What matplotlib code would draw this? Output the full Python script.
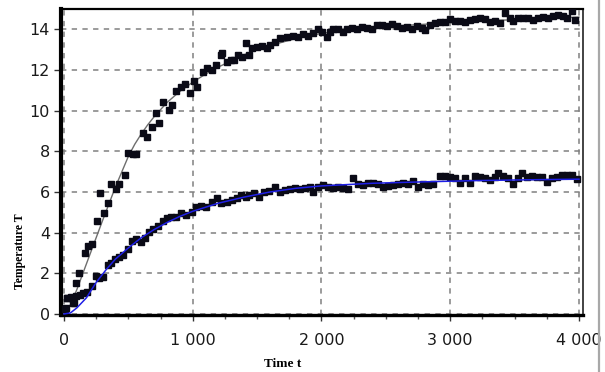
import matplotlib
matplotlib.use("Agg")
import matplotlib.pyplot as plt
from matplotlib.lines import Line2D

# ---------------- data ----------------
upper_t = [15, 21, 59, 77, 93, 118, 162, 188, 214, 257, 283, 311, 342, 368, 402, 427,
           471, 497, 535, 561, 612, 643, 682, 716, 741, 767, 813, 836, 870, 909, 942,
           981, 1012, 1037, 1076, 1114, 1153, 1179, 1218, 1230, 1269, 1295, 1320, 1354,
           1385, 1411, 1436, 1462, 1500, 1539, 1578, 1604, 1642,
           1678, 1729, 1781, 1820, 1859, 1898, 1937, 1975, 2001, 2040, 2066, 2092, 2131,
           2170, 2195, 2234, 2273, 2312, 2351, 2390, 2428, 2467, 2506, 2545, 2584, 2623,
           2662, 2700, 2739, 2778, 2804, 2843, 2882, 2920, 2959, 2998, 3037, 3076, 3115,
           3154, 3192, 3231, 3270, 3309, 3348, 3387, 3425, 3464, 3490, 3529, 3568, 3607,
           3646, 3684, 3723, 3762, 3801, 3840, 3879, 3910, 3943, 3969]
upper_T = [0.28, 0.77, 0.80, 0.52, 1.54, 2.00, 2.98, 3.34, 3.42, 4.59, 5.93, 4.95, 5.47,
           6.39, 6.15, 6.37, 6.83, 7.93, 7.85, 7.87, 8.91, 8.72, 9.21, 9.87, 9.41, 10.41,
           10.03, 10.28, 10.98, 11.18, 11.29, 10.85, 11.46, 11.14, 11.91, 12.08, 12.00,
           12.24, 12.73, 12.82, 12.40, 12.50, 12.49, 12.73, 12.65, 13.31, 12.73, 13.06,
           13.14, 13.18, 13.09, 13.22, 13.39,
           13.55, 13.63, 13.68, 13.63, 13.75, 13.68, 13.80, 14.01, 13.88, 13.63, 13.88,
           14.04, 14.01, 13.88, 14.01, 14.08, 14.01, 14.13, 14.08, 14.01, 14.21, 14.21,
           14.17, 14.24, 14.17, 14.08, 14.13, 14.04, 14.17, 14.08, 13.96, 14.21, 14.29,
           14.34, 14.37, 14.50, 14.40, 14.40, 14.34, 14.45, 14.50, 14.57, 14.50, 14.34,
           14.40, 14.29, 14.78, 14.54, 14.40, 14.57, 14.54, 14.54, 14.45, 14.54, 14.62,
           14.57, 14.67, 14.70, 14.67, 14.54, 14.90, 14.45]

lower_t = [8, 21, 52, 67, 93, 124, 149, 180, 214, 247, 273, 304, 342, 368, 394, 427, 458,
           497, 530, 561, 600, 630, 664, 695, 730, 767, 798, 831, 870, 909, 947, 993, 1024,
           1063, 1102, 1153, 1192, 1218, 1263, 1302, 1341, 1372, 1411, 1437, 1475, 1514,
           1553, 1591, 1642,
           1678, 1716, 1755, 1794, 1833, 1872, 1911, 1937, 1975, 2014, 2053, 2092, 2131,
           2170, 2209, 2247, 2286, 2325, 2364, 2403, 2441, 2480, 2519, 2558, 2597, 2636,
           2675, 2713, 2752, 2791, 2830, 2869, 2921, 2959, 2998, 3037, 3076, 3115, 3154,
           3192, 3231, 3270, 3309, 3348, 3374, 3412, 3451, 3490, 3529, 3555, 3594, 3633,
           3672, 3710, 3749, 3788, 3827, 3866, 3905, 3943, 3982]
lower_T = [0.23, 0.77, 0.85, 0.52, 0.88, 0.93, 1.05, 1.10, 1.38, 1.87, 1.75, 1.84, 2.41,
           2.49, 2.69, 2.79, 2.90, 3.18, 3.60, 3.67, 3.55, 3.75, 4.05, 4.16, 4.35, 4.59,
           4.70, 4.79, 4.79, 4.95, 4.87, 5.03, 5.28, 5.31, 5.24, 5.52, 5.69, 5.47, 5.52,
           5.60, 5.69, 5.85, 5.77, 5.85, 5.93, 5.77, 6.01, 6.06, 6.23,
           6.01, 6.10, 6.13, 6.18, 6.13, 6.18, 6.23, 6.01, 6.26, 6.34, 6.23, 6.18, 6.23,
           6.18, 6.13, 6.67, 6.39, 6.34, 6.46, 6.42, 6.39, 6.23, 6.30, 6.34, 6.39, 6.42,
           6.39, 6.56, 6.26, 6.39, 6.34, 6.39, 6.78, 6.78, 6.75, 6.67, 6.46, 6.67, 6.46,
           6.78, 6.75, 6.67, 6.59, 6.72, 6.95, 6.78, 6.67, 6.39, 6.67, 6.95, 6.75, 6.78,
           6.75, 6.72, 6.51, 6.67, 6.75, 6.83, 6.83, 6.83, 6.62]

gray_fit_t = [0, 50, 100, 200, 300, 400, 500, 550, 600, 650, 700, 750, 800, 900, 1000,
              1100, 1200, 1300, 1400, 1500, 1600, 1800, 2000, 2200, 2400, 2800, 3200,
              3600, 4000]
gray_fit_T = [0.0, 0.45, 1.2, 2.9, 4.6, 6.25, 7.75, 8.35, 8.85, 9.3, 9.7, 10.05, 10.4,
              10.95, 11.4, 11.8, 12.15, 12.45, 12.75, 13.0, 13.2, 13.55, 13.8, 13.97,
              14.1, 14.25, 14.4, 14.5, 14.6]

blue_fit_t = [0, 50, 100, 175, 250, 330, 400, 500, 600, 700, 800, 900, 1000, 1200, 1400,
              1600, 1800, 2000, 2400, 2800, 3200, 3600, 4000]
blue_fit_T = [0.0, 0.05, 0.3, 0.8, 1.55, 2.2, 2.7, 3.25, 3.75, 4.15, 4.5, 4.8, 5.05, 5.45,
              5.75, 6.0, 6.18, 6.3, 6.43, 6.5, 6.56, 6.6, 6.63]

x_ticks = [0, 1000, 2000, 3000, 4000]
x_tick_labels = ["0", "1 000", "2 000", "3 000", "4 000"]
y_ticks = [0, 2, 4, 6, 8, 10, 12, 14]
x_label = "Time t"
y_label = "Temperature T"

# ---------------- figure ----------------
W, H = 605, 372
fig = plt.figure(figsize=(W / 100, H / 100), dpi=100)
ax = fig.add_axes([61 / W, 1 - 315 / H, (583 - 61) / W, (315 - 9) / H])

ax.set_xlim(-23, 4031)
ax.set_ylim(-0.05, 15.0)

ax.grid(True, color="#808080", linestyle=(0, (3.5, 3.5)), linewidth=1.1, zorder=0)
ax.set_axisbelow(True)

ax.plot(gray_fit_t, gray_fit_T, color="#6e6e6e", linewidth=1.0, zorder=2)
ax.plot(upper_t, upper_T, linestyle="none", marker="s", markersize=3.9,
        color="#0a0a16", zorder=3)
ax.plot(lower_t, lower_T, linestyle="none", marker="s", markersize=3.9,
        color="#0a0a16", zorder=3)
ax.plot(blue_fit_t, blue_fit_T, color="#1f1fe6", linewidth=1.1, zorder=4)

ax.set_xticks(x_ticks)
ax.set_xticklabels(x_tick_labels)
ax.set_xticks([v for v in range(250, 4000, 250) if v % 1000], minor=True)
ax.set_yticks(y_ticks)

for lab in ax.get_xticklabels() + ax.get_yticklabels():
    lab.set_fontfamily("DejaVu Sans")
    lab.set_fontsize(11.5)
    lab.set_color("#1a1a1a")

ax.tick_params(axis="x", which="major", direction="out", length=4, width=1.0,
               pad=9, color="#333333")
ax.tick_params(axis="x", which="minor", direction="out", length=3, width=1.0,
               color="#555555")
ax.tick_params(axis="y", which="major", direction="out", length=5, width=1.0,
               pad=3, color="#333333")

ax.spines["left"].set_linewidth(3.0)
ax.spines["bottom"].set_linewidth(2.4)
ax.spines["top"].set_linewidth(1.6)
ax.spines["right"].set_linewidth(1.2)
for s in ax.spines.values():
    s.set_color("#000000")
ax.spines["right"].set_color("#222222")

fig.text(20 / W, 1 - 251 / H, y_label, rotation=90, ha="center", va="center",
         fontsize=8.5, fontweight="bold", family="Liberation Serif")
fig.text(283 / W, 1 - 364 / H, x_label, ha="center", va="center",
         fontsize=9.5, fontweight="bold", family="Liberation Serif")

# light border at the right edge of the picture
fig.add_artist(Line2D([599 / W, 599 / W], [0, 1], transform=fig.transFigure,
                      color="#a8a8a8", linewidth=1.6, zorder=10))

fig.savefig("out.png", dpi=100)
